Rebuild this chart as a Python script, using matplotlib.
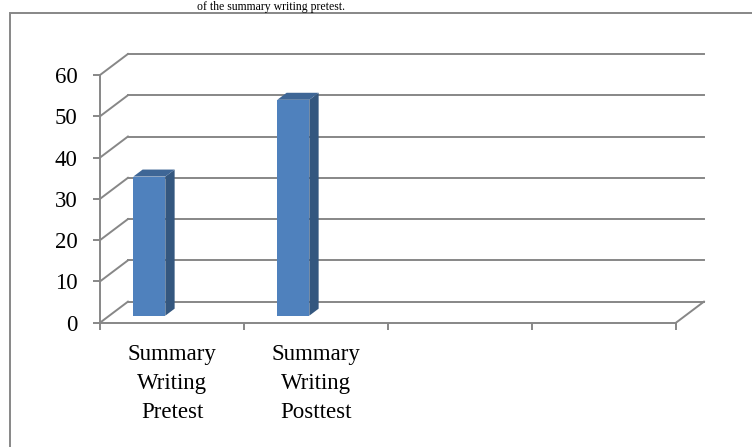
import matplotlib.pyplot as plt
from matplotlib.patches import Polygon, Rectangle

# data
categories = ['Summary\nWriting\nPretest', 'Summary\nWriting\nPosttest', '', '']
values = [33.7, 52.3]
yticks = [0, 10, 20, 30, 40, 50, 60]
caption = 'of the summary writing pretest.'

# fake 3d look (excel style) - depth offset in data units
DX = 0.194
DY = 5.1
d0, d1 = 1/3., 2/3.       # bar sits in the middle third of the depth
bw = 1/4.5                # 3 series per slot, gap 150%
grey = '#878787'

plt.rcParams['font.family'] = ['Liberation Serif', 'DejaVu Serif']

fig = plt.figure(figsize=(7.52, 4.47), dpi=100)
W, H = 752., 447.
ppx = 144.  # pixels per category
ppy = 4.128 # pixels per unit
xmax, ymax = 4.35, 66
ax = fig.add_axes([100/W, 124.3/H, ppx*xmax/W, ppy*ymax/H])
ax.set_xlim(0, xmax)
ax.set_ylim(0, ymax)
ax.patch.set_visible(False)

n = len(categories)
# walls: side diagonals + back gridlines
for y in yticks:
    ax.plot([0, DX], [y, y+DY], color=grey, lw=1.4, zorder=1, clip_on=False)
    ax.plot([DX, n+DX], [y+DY, y+DY], color=grey, lw=1.4, zorder=1, clip_on=False)
# right floor edge
ax.plot([n, n+DX], [0, DY], color=grey, lw=1.4, zorder=1, clip_on=False)

# bars
for i, v in enumerate(values):
    x0 = i + 0.75*bw
    x1 = x0 + bw
    front = [(x0+d0*DX, d0*DY), (x1+d0*DX, d0*DY), (x1+d0*DX, v+d0*DY), (x0+d0*DX, v+d0*DY)]
    side = [(x1+d0*DX, d0*DY), (x1+d1*DX, d1*DY), (x1+d1*DX, v+d1*DY), (x1+d0*DX, v+d0*DY)]
    top = [(x0+d0*DX, v+d0*DY), (x1+d0*DX, v+d0*DY), (x1+d1*DX, v+d1*DY), (x0+d1*DX, v+d1*DY)]
    ax.add_patch(Polygon(side, closed=True, fc='#34577f', ec='none', zorder=3))
    ax.add_patch(Polygon(top, closed=True, fc='#3e6696', ec='none', zorder=3))
    ax.add_patch(Polygon(front, closed=True, fc='#4f81bd', ec='none', zorder=4))

# axes
for s in ['top', 'right']:
    ax.spines[s].set_visible(False)
ax.spines['left'].set_bounds(0, 60)
ax.spines['bottom'].set_bounds(0, n)
for s in ['left', 'bottom']:
    ax.spines[s].set_color(grey)
    ax.spines[s].set_linewidth(1.4)
    ax.spines[s].set_zorder(2)

ax.set_yticks(yticks)
ax.set_yticklabels([str(t) for t in yticks])
ax.tick_params(axis='y', length=5, width=1.4, color=grey, pad=11, labelsize=16.5)
ax.set_xticks(range(n+1))
ax.set_xticklabels([])
ax.tick_params(axis='x', which='major', length=5, width=1.4, color=grey)
ax.set_xticks([i + 0.5 for i in range(n)], minor=True)
ax.set_xticklabels(categories, minor=True, linespacing=1.5)
ax.tick_params(axis='x', which='minor', length=0, pad=15, labelsize=16.5)

# chart border and the line of text above it
fig.patches.append(Rectangle((10/W, -0.1), 1.0, (H-13)/H + 0.1, transform=fig.transFigure,
                             fill=False, ec=grey, lw=1.4))
fig.text(345/W, (H-10)/H, caption, ha='right', va='baseline', fontsize=8.5)

fig.savefig('out.png', dpi=100)
